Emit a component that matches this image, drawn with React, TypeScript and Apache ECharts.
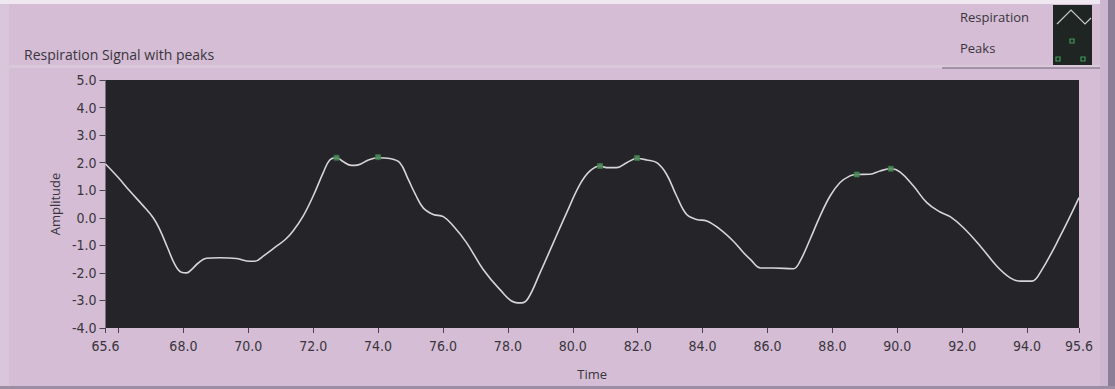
import React, { useEffect, useRef } from "react";
import * as echarts from "echarts";

// ---- data ----
const TIME = [
  65.6, 66.0, 66.35, 66.75, 67.07, 67.27, 67.5, 67.74, 67.94, 68.1, 68.25, 68.45, 68.71, 69.12, 69.64,
  70.05, 70.2, 70.46, 70.87, 71.15, 71.38, 71.69, 72.0, 72.31, 72.51, 72.72, 72.92, 73.18, 73.39, 73.7,
  74.0, 74.36, 74.67, 74.93, 75.15, 75.39, 75.7, 76.01, 76.32, 76.73, 77.24, 77.75, 78.21, 78.42, 78.63,
  78.99, 79.4, 79.81, 80.22, 80.53, 80.84, 81.04, 81.35, 81.66, 81.98, 82.28, 82.59, 82.89, 83.2, 83.51,
  83.82, 84.13, 84.54, 84.95, 85.25, 85.48, 85.79, 86.18, 86.8, 87.0, 87.31, 87.62, 87.93, 88.23, 88.54,
  88.75, 89.16, 89.47, 89.8, 90.09, 90.5, 90.91, 91.32, 91.63, 92.04, 92.56, 93.07, 93.48, 93.79, 94.15,
  94.4, 95.02, 95.6,
];
const RESPIRATION = [
  1.95, 1.45, 0.97, 0.45, 0.0, -0.42, -1.05, -1.7, -1.98, -2.0, -1.88, -1.65, -1.47, -1.45, -1.48,
  -1.58, -1.58, -1.39, -1.03, -0.78, -0.48, 0.06, 0.79, 1.64, 2.1, 2.18, 2.04, 1.9, 1.92, 2.1,
  2.18, 2.15, 2.0, 1.39, 0.85, 0.36, 0.12, 0.04, -0.3, -0.91, -1.88, -2.6, -3.07, -3.09, -2.91,
  -2.0, -0.91, 0.18, 1.21, 1.7, 1.88, 1.82, 1.82, 2.0, 2.15, 2.1, 2.0, 1.58, 0.79, 0.12,
  -0.06, -0.12, -0.42, -0.85, -1.25, -1.52, -1.82, -1.82, -1.85, -1.58, -0.79, 0.06, 0.79, 1.27, 1.52,
  1.57, 1.58, 1.7, 1.78, 1.66, 1.15, 0.55, 0.21, 0.04, -0.36, -1.03, -1.76, -2.18, -2.3, -2.3,
  -2.0, -0.67, 0.73,
];
const PEAK_TIME = [72.72, 74.0, 80.84, 81.98, 88.75, 89.8];
const PEAK_VALUE = [2.18, 2.2, 1.88, 2.17, 1.57, 1.78];

const X_LABEL_VALUES = [65.6, 68, 70, 72, 74, 76, 78, 80, 82, 84, 86, 88, 90, 92, 94, 95.6];
const X_TICK_VALUES = [65.6, 66, 68, 70, 72, 74, 76, 78, 80, 82, 84, 86, 88, 90, 92, 94, 95.6];
const Y_MIN = -4;
const Y_MAX = 5;
const Y_STEP = 1;

const TITLE = "Respiration Signal with peaks";
const LEGEND_NAMES = ["Respiration", "Peaks"];

const BG = "#d4bdd5";
const PLOT_BG = "#252428";
const TEXT = "#3a353c";
const SANS = "'Open Sans', 'Noto Sans', sans-serif";
const NARROW = "'DejaVu Sans Condensed', 'Liberation Sans Narrow', sans-serif";

export default function App() {
  const ref = useRef<HTMLDivElement>(null);

  useEffect(() => {
    if (!ref.current) return;
    const chart = echarts.init(ref.current, null, { renderer: "svg" });

    const lineData = TIME.map((t, i) => [t, RESPIRATION[i]]);
    const peakData = PEAK_TIME.map((t, i) => [t, PEAK_VALUE[i]]);

    chart.setOption({
      animation: false,
      backgroundColor: BG,
      title: {
        text: TITLE,
        left: 19,
        top: 42,
        textStyle: { fontFamily: SANS, fontSize: 14, fontWeight: "normal", color: TEXT },
      },
      grid: {
        left: 105.5,
        right: 36,
        top: 80,
        bottom: 61,
        show: true,
        backgroundColor: PLOT_BG,
        borderWidth: 0,
      },
      xAxis: {
        type: "value",
        min: 65.6,
        max: 95.6,
        name: "Time",
        nameLocation: "middle",
        nameGap: 39,
        nameTextStyle: { fontFamily: SANS, fontSize: 13, color: TEXT },
        axisLine: { show: false, onZero: false },
        axisTick: {
          show: true,
          length: 5,
          customValues: X_TICK_VALUES,
          lineStyle: { color: "#4a4450", width: 1 },
        },
        axisLabel: {
          customValues: X_LABEL_VALUES,
          formatter: (v: number) => v.toFixed(1),
          fontFamily: NARROW,
          fontSize: 14,
          color: TEXT,
          margin: 11,
        },
        splitLine: { show: false },
      },
      yAxis: {
        type: "value",
        min: Y_MIN,
        max: Y_MAX,
        interval: Y_STEP,
        name: "Amplitude",
        nameLocation: "middle",
        nameGap: 44,
        nameTextStyle: { fontFamily: SANS, fontSize: 13, color: TEXT },
        axisLine: { show: false, onZero: false },
        axisTick: { show: true, length: 6, lineStyle: { color: "#4a4450", width: 1 } },
        axisLabel: {
          formatter: (v: number) => v.toFixed(1),
          fontFamily: NARROW,
          fontSize: 14,
          color: TEXT,
          margin: 9,
        },
        splitLine: { show: false },
      },
      series: [
        {
          name: LEGEND_NAMES[0],
          type: "line",
          data: lineData,
          smooth: 0.4,
          showSymbol: false,
          lineStyle: { color: "#d6d4d6", width: 1.6 },
          z: 2,
        },
        {
          name: LEGEND_NAMES[1],
          type: "scatter",
          data: peakData,
          symbol: "rect",
          symbolSize: 5,
          itemStyle: { color: "#4f8d5c", borderColor: "#3b7a48", borderWidth: 0.8, opacity: 0.9 },
          z: 3,
        },
      ],
      graphic: [
        // top light strip
        { type: "rect", shape: { x: 0, y: 0, width: 1115, height: 4 }, style: { fill: "#efe8f0" }, silent: true },
        // left light strip
        { type: "rect", shape: { x: 0, y: 4, width: 9, height: 385 }, style: { fill: "#d9c6da" }, silent: true },
        // faint band under title area
        { type: "rect", shape: { x: 9, y: 65, width: 1091, height: 3 }, style: { fill: "#d9c7da" }, silent: true },
        // right border
        { type: "rect", shape: { x: 1100, y: 0, width: 8, height: 389 }, style: { fill: "#cdb6cf" }, silent: true },
        { type: "rect", shape: { x: 1108, y: 0, width: 7, height: 389 }, style: { fill: "#8d7e97" }, silent: true },
        // bottom border
        { type: "rect", shape: { x: 0, y: 386, width: 1115, height: 3 }, style: { fill: "#9c8ca4" }, silent: true },
        // legend bottom rule
        { type: "line", shape: { x1: 942, y1: 68, x2: 1100, y2: 68 }, style: { stroke: "#6f6476", lineWidth: 1 }, silent: true },
        // legend texts
        {
          type: "text",
          x: 960,
          y: 17,
          style: { text: LEGEND_NAMES[0], fontFamily: SANS, fontSize: 13, fill: TEXT, verticalAlign: "middle" },
          silent: true,
        },
        {
          type: "text",
          x: 960,
          y: 48,
          style: { text: LEGEND_NAMES[1], fontFamily: SANS, fontSize: 13, fill: TEXT, verticalAlign: "middle" },
          silent: true,
        },
        // legend icon box
        { type: "rect", shape: { x: 1053, y: 5, width: 39, height: 60 }, style: { fill: "#1f2523" }, silent: true },
        {
          type: "polyline",
          shape: { points: [[1057, 24], [1071, 10], [1085, 24], [1091, 18]] },
          style: { stroke: "#c9c9c9", lineWidth: 1.2, fill: "none" },
          silent: true,
        },
        { type: "rect", shape: { x: 1070, y: 39, width: 4, height: 4 }, style: { fill: "none", stroke: "#3f9a5a", lineWidth: 1.2 }, silent: true },
        { type: "rect", shape: { x: 1056, y: 57, width: 4, height: 4 }, style: { fill: "none", stroke: "#3f9a5a", lineWidth: 1.2 }, silent: true },
        { type: "rect", shape: { x: 1081, y: 57, width: 4, height: 4 }, style: { fill: "none", stroke: "#3f9a5a", lineWidth: 1.2 }, silent: true },
      ],
    });

    return () => chart.dispose();
  }, []);

  return (
    <div
      ref={ref}
      style={{ position: "absolute", left: 0, top: 0, width: 1115, height: 389 }}
    />
  );
}
